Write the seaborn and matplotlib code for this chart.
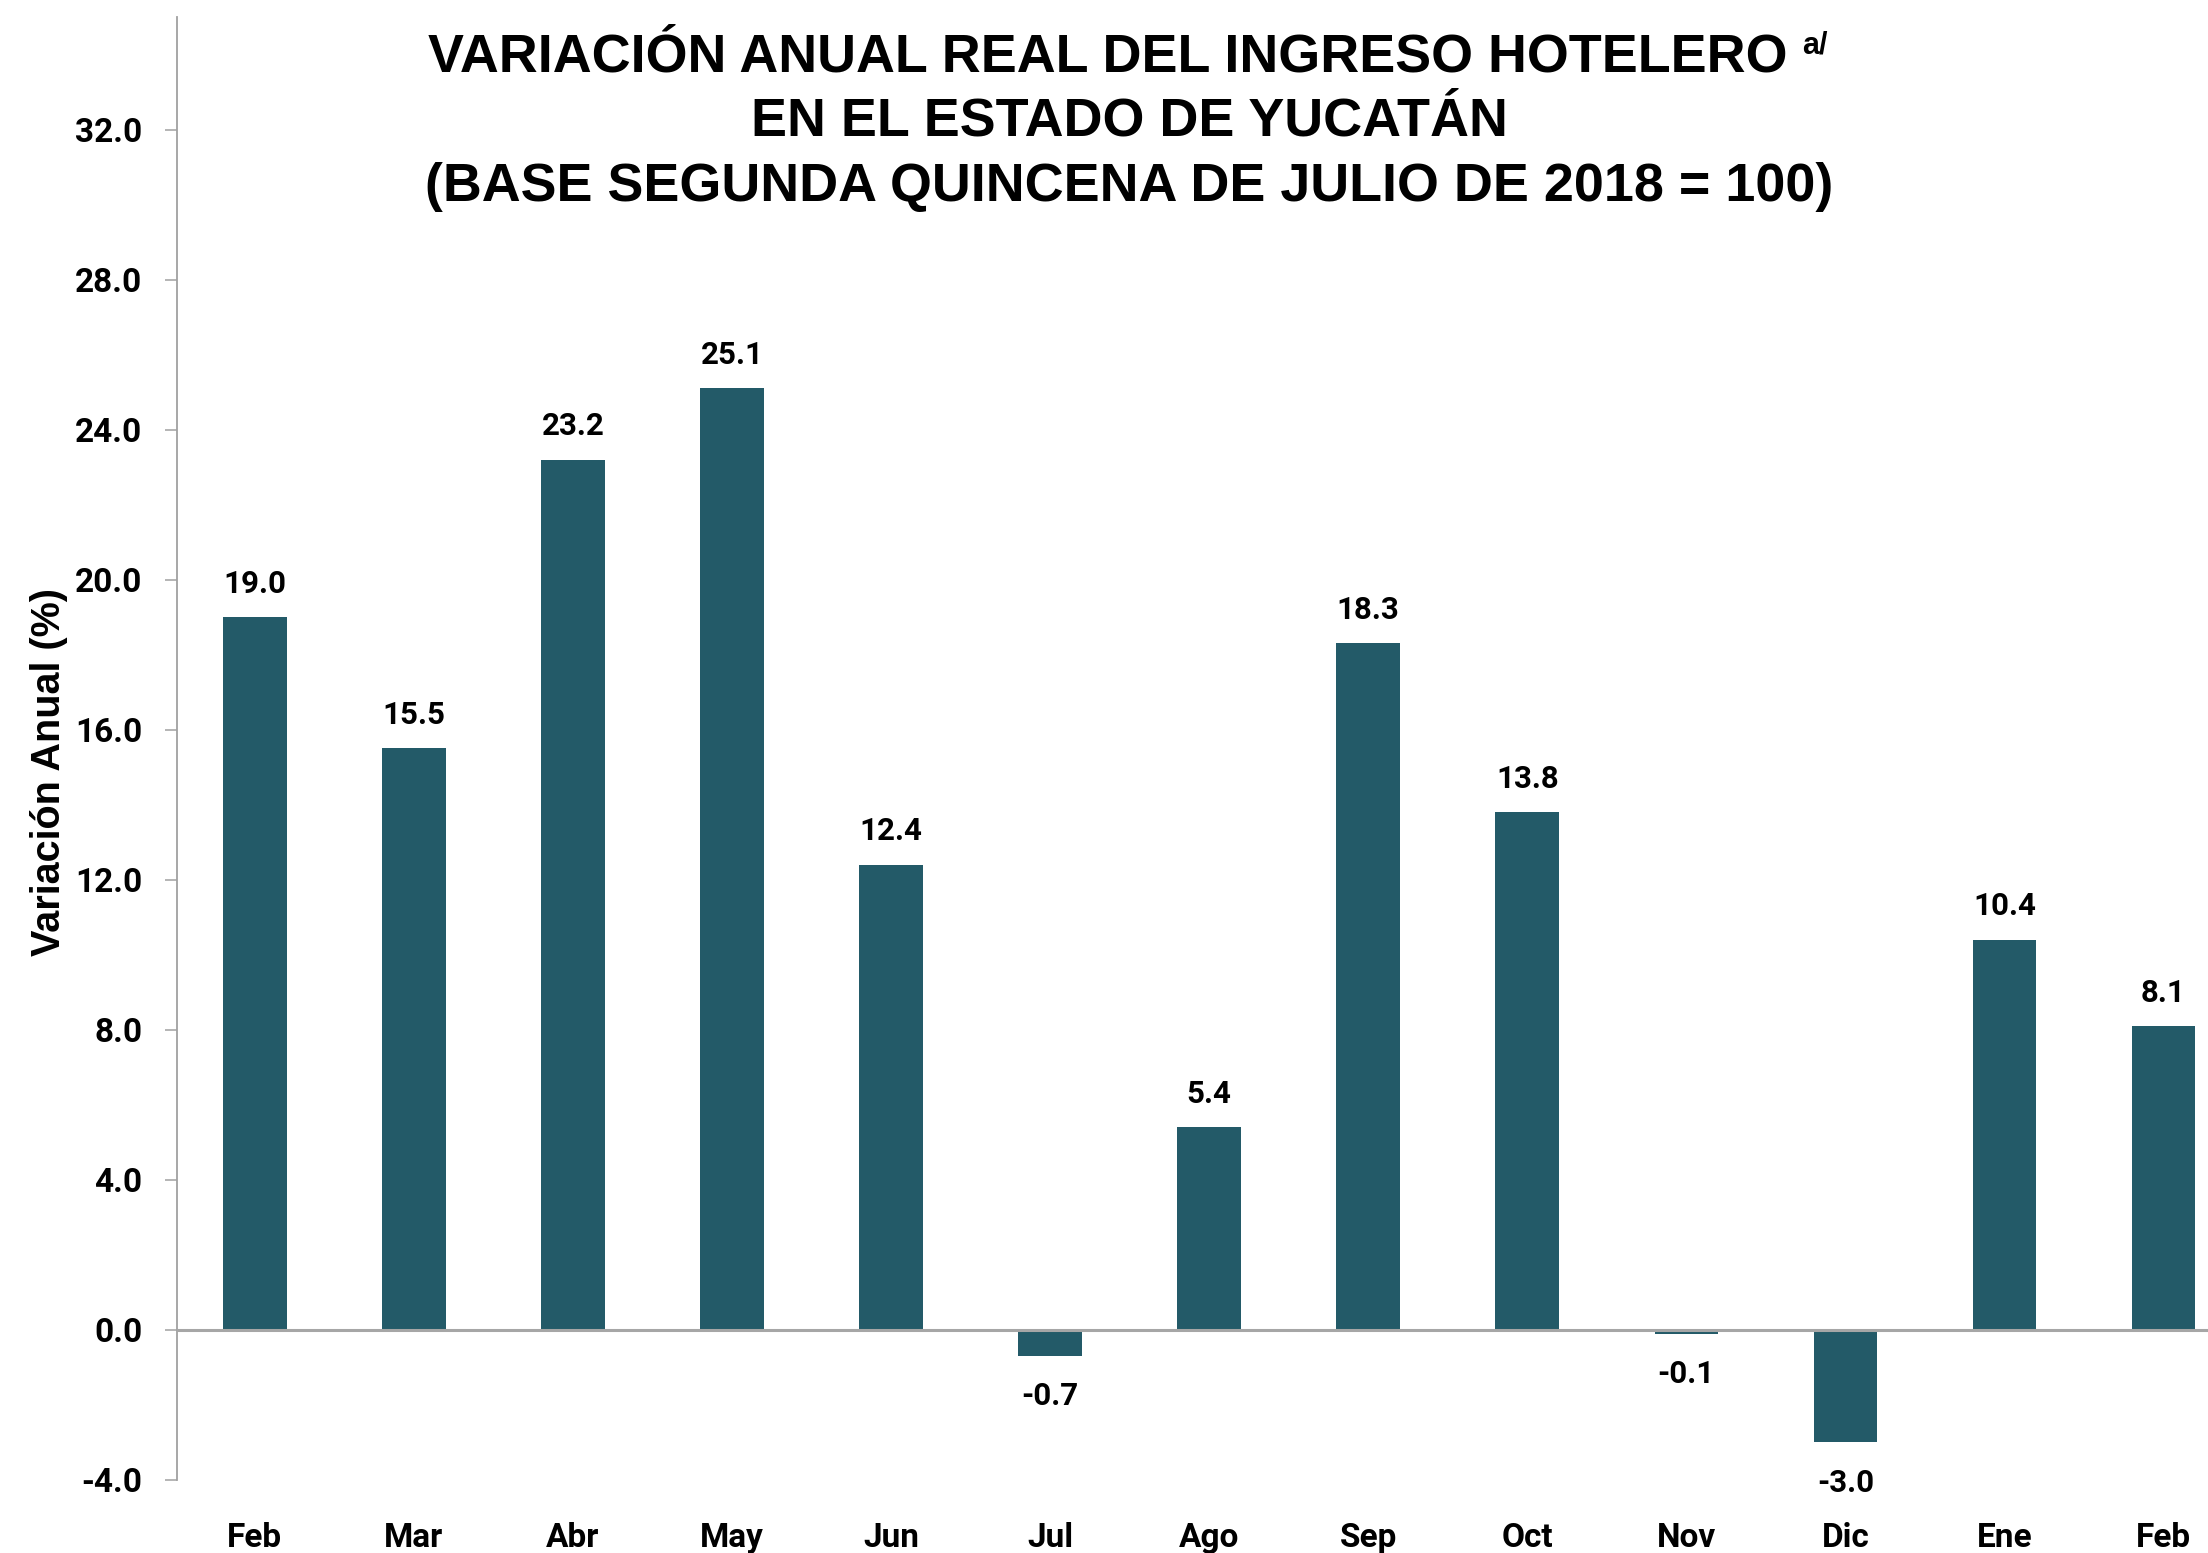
import numpy as np
import pandas as pd
import matplotlib
matplotlib.use("Agg")
import matplotlib.pyplot as plt
import seaborn as sns

# ---------------- data ----------------
meses = ["Feb", "Mar", "Abr", "May", "Jun", "Jul", "Ago", "Sep", "Oct", "Nov", "Dic", "Ene", "Feb"]
variacion = [19.0, 15.5, 23.2, 25.1, 12.4, -0.7, 5.4, 18.3, 13.8, -0.1, -3.0, 10.4, 8.1]
yticks = [-4.0, 0.0, 4.0, 8.0, 12.0, 16.0, 20.0, 24.0, 28.0, 32.0]
titulo = ["VARIACIÓN ANUAL REAL DEL INGRESO HOTELERO",
          "EN EL ESTADO DE YUCATÁN",
          "(BASE SEGUNDA QUINCENA DE JULIO DE 2018 = 100)"]
nota = "a/"
ylabel = "Variación Anual (%)"

# ---------------- style ----------------
sns.set_theme(style="white")
plt.rcParams["font.family"] = ["Roboto", "DejaVu Sans"]

BAR = "#235A68"
GRAY = "#A0A0A0"
W, H = 2208, 1553

fig = plt.figure(figsize=(W / 100, H / 100), dpi=100)
ax_left, ax_right, ax_top, ax_bottom = 177, 2208, 17, 1480
ax = fig.add_axes([ax_left / W, 1 - ax_bottom / H, (ax_right - ax_left) / W, (ax_bottom - ax_top) / H])

df = pd.DataFrame({"periodo": [f"p{i:02d}" for i in range(len(meses))],
                   "mes": meses, "variacion": variacion})

sns.barplot(data=df, x="periodo", y="variacion", color=BAR, saturation=1,
            width=0.4, ax=ax, zorder=2, linewidth=0)

ax.set_xlim(-0.49, 12.28)
ax.set_ylim(-4, 35)
ax.set_xticks(range(len(meses)))
ax.set_xticklabels(meses)
ax.set_yticks(yticks)
ax.set_yticklabels([f"{v:.1f}" for v in yticks])

for s in ["top", "right", "bottom"]:
    ax.spines[s].set_visible(False)
ax.spines["left"].set_color(GRAY)
ax.spines["left"].set_linewidth(1.3)
ax.spines["left"].set_bounds(-4, 35)

ax.tick_params(axis="y", which="both", left=True, length=9, width=1.1, color=GRAY,
               pad=16, labelsize=24, labelcolor="black")
ax.tick_params(axis="x", length=0, pad=30, labelsize=24, labelcolor="black")
for lbl in ax.get_yticklabels() + ax.get_xticklabels():
    lbl.set_fontweight("bold")
    lbl.set_fontfamily(["Roboto", "DejaVu Sans"])

ax.axhline(0, color="#A6A6A6", lw=2.2, zorder=3)

ax.set_xlabel("")
ax.set_ylabel(ylabel, fontsize=28.5, fontweight="bold", color="black",
              family=["Liberation Sans", "DejaVu Sans"])
ax.yaxis.set_label_coords(-0.0535, 0.484)

# value labels
for i, v in enumerate(variacion):
    if v >= 0:
        ax.annotate(f"{v:.1f}", (i, v), xytext=(0, 24), textcoords="offset points",
                    ha="center", va="center", fontsize=22.5, fontweight="bold", color="black")
    else:
        ax.annotate(f"{v:.1f}", (i, v), xytext=(0, -29), textcoords="offset points",
                    ha="center", va="center", fontsize=22.5, fontweight="bold", color="black")

# title
tfam = ["Liberation Sans", "DejaVu Sans"]
baselines = [72, 136, 201]
tsize = 38.8
t1 = fig.text(1108 / W, 1 - baselines[0] / H, titulo[0], ha="center", va="baseline",
              fontsize=tsize, fontweight="bold", family=tfam, color="black")
fig.text(1129 / W, 1 - baselines[1] / H, titulo[1], ha="center", va="baseline",
         fontsize=tsize, fontweight="bold", family=tfam, color="black")
fig.text(1129 / W, 1 - baselines[2] / H, titulo[2], ha="center", va="baseline",
         fontsize=tsize, fontweight="bold", family=tfam, color="black")

fig.canvas.draw()
bb = t1.get_window_extent(fig.canvas.get_renderer())
fig.text((bb.x1 + 14) / W, 1 - 30 / H, nota, ha="left", va="top",
         fontsize=22, fontweight="bold", family=tfam, color="black")

fig.savefig("out.png", dpi=100, facecolor="white")
